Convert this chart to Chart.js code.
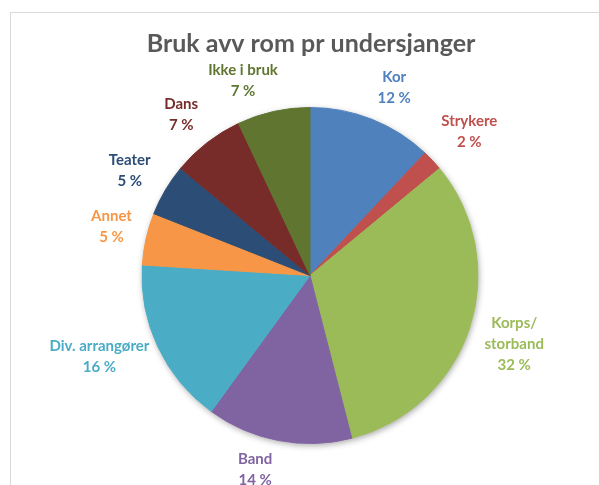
<!DOCTYPE html>
<html><head><meta charset="utf-8">
<script src="https://cdn.jsdelivr.net/npm/chart.js@4/dist/chart.umd.min.js"></script>
<style>
html,body{margin:0;padding:0;background:#fff;overflow:hidden}
#wrap{position:relative;width:599px;height:485px;overflow:hidden}
#frame{position:absolute;left:10px;top:12px;width:700px;height:600px;border:1px solid #d9d9d9}
canvas{position:absolute;left:0;top:0}
</style></head><body>
<div id="wrap"><div id="frame"></div><canvas id="c" width="599" height="485"></canvas></div>
<script>
const chartTitle = 'Bruk avv rom pr undersjanger';
const categories = ['Kor','Strykere','Korps/storband','Band','Div. arrangører','Annet','Teater','Dans','Ikke i bruk'];
const shares = [12,2,32,14,16,5,5,7,7];
const colors = ['#4F81BD','#C0504D','#9BBB59','#8064A2','#4BACC6','#F79646','#2C4D75','#772C2A','#5F7530'];

const FONT = 'Lato, "Open Sans", sans-serif';
function wrapLabel(s){ return s.indexOf('/')>=0 ? [s.slice(0,s.indexOf('/')+1), s.slice(s.indexOf('/')+1)] : [s]; }

const deco = {
  id:'deco',
  beforeDatasetsDraw(chart){
    const a = chart.getDatasetMeta(0).data[0]; if(!a) return;
    const ctx = chart.ctx; ctx.save();
    ctx.shadowColor='rgba(0,0,0,0.35)'; ctx.shadowBlur=6; ctx.shadowOffsetX=1; ctx.shadowOffsetY=2;
    ctx.fillStyle='#ffffff'; ctx.beginPath(); ctx.arc(a.x,a.y,a.outerRadius,0,Math.PI*2); ctx.fill();
    ctx.restore();
  },
  afterDatasetsDraw(chart, args, opts){
    const ctx = chart.ctx; const meta = chart.getDatasetMeta(0);
    const nudge = opts.nudge || [];
    ctx.save();
    ctx.font = 'bold 15px '+FONT; ctx.textAlign='center'; ctx.textBaseline='middle';
    const lh = 21, gap = 17;
    meta.data.forEach((arc,i)=>{
      const lines = wrapLabel(categories[i]).concat([shares[i]+' %']);
      const w = Math.max(...lines.map(l=>ctx.measureText(l).width));
      const h = lines.length*lh;
      const mid = (arc.startAngle+arc.endAngle)/2;
      const dx = Math.cos(mid), dy = Math.sin(mid);
      const ax = arc.x + (arc.outerRadius+gap)*dx, ay = arc.y + (arc.outerRadius+gap)*dy;
      const n = nudge[i] || [0,0];
      const cx = ax + dx*w/2 + n[0], cy = ay + dy*h/2 + n[1];
      ctx.fillStyle = colors[i];
      lines.forEach((l,k)=>ctx.fillText(l, cx, cy - h/2 + lh/2 + k*lh));
    });
    ctx.font = 'bold 25px '+FONT; ctx.fillStyle='#595959';
    ctx.fillText(chartTitle, 311, 44);
    ctx.restore();
  }
};

new Chart(document.getElementById('c'), {
  type:'pie',
  data:{ labels:categories, datasets:[{ data:shares, backgroundColor:colors, borderColor:colors, borderWidth:1 }]},
  options:{
    responsive:false, animation:false, devicePixelRatio:1,
    layout:{ padding:{ left:141, right:120, top:107, bottom:41 } },
    plugins:{ legend:{display:false}, tooltip:{enabled:false}, title:{display:false},
      deco:{ nudge:[[10,4],[4,-3],[0,2],[-17,-8],[2,-7],[2,-4],[-3,0],[-5,2],[-19,6]] } }
  },
  plugins:[deco]
});
</script>
</body></html>
